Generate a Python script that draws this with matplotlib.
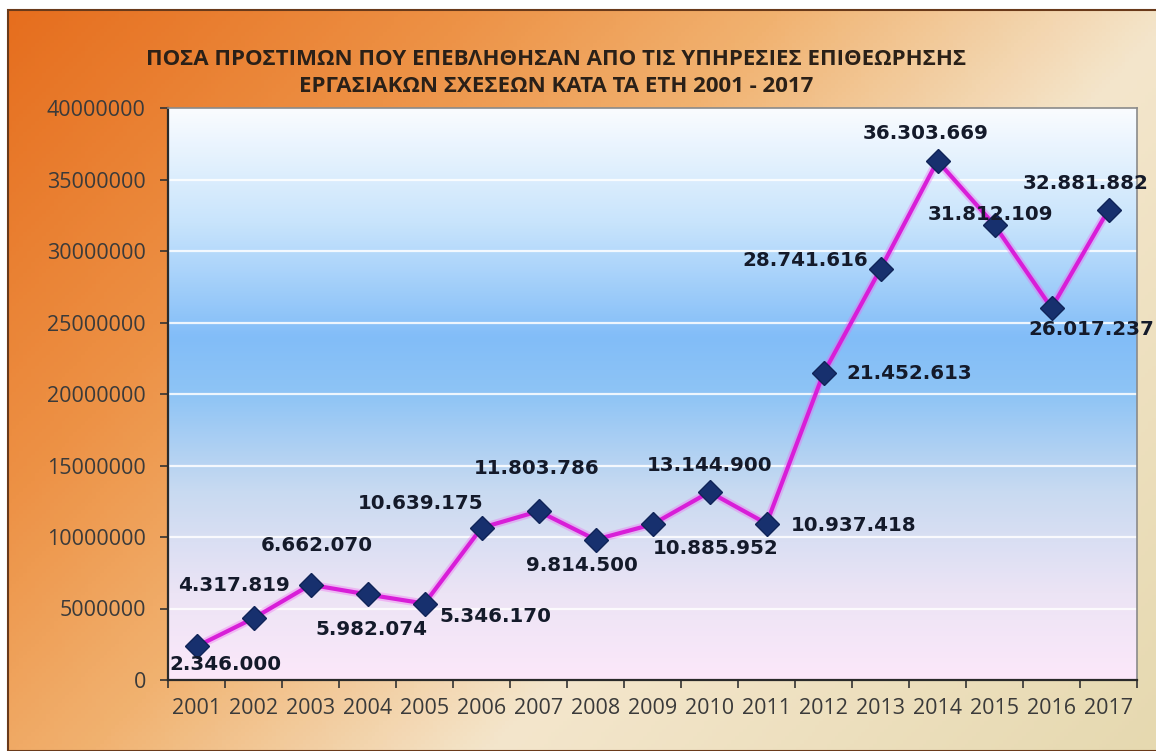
import numpy as np
import matplotlib
matplotlib.use('Agg')
import matplotlib.pyplot as plt
from matplotlib.colors import LinearSegmentedColormap
from matplotlib.patches import Rectangle

# Δεδομένα
years = ['2001', '2002', '2003', '2004', '2005', '2006', '2007', '2008', '2009',
         '2010', '2011', '2012', '2013', '2014', '2015', '2016', '2017']
fines = [2346000, 4317819, 6662070, 5982074, 5346170, 10639175, 11803786, 9814500,
         10885952, 13144900, 10937418, 21452613, 28741616, 36303669, 31812109,
         26017237, 32881882]
labels = ['2.346.000', '4.317.819', '6.662.070', '5.982.074', '5.346.170',
          '10.639.175', '11.803.786', '9.814.500', '10.885.952', '13.144.900',
          '10.937.418', '21.452.613', '28.741.616', '36.303.669', '31.812.109',
          '26.017.237', '32.881.882']
yticks = [0, 5000000, 10000000, 15000000, 20000000, 25000000, 30000000, 35000000, 40000000]

title = ('ΠΟΣΑ ΠΡΟΣΤΙΜΩΝ ΠΟΥ ΕΠΕΒΛΗΘΗΣΑΝ ΑΠΟ ΤΙΣ ΥΠΗΡΕΣΙΕΣ ΕΠΙΘΕΩΡΗΣΗΣ\n'
         'ΕΡΓΑΣΙΑΚΩΝ ΣΧΕΣΕΩΝ ΚΑΤΑ ΤΑ ΕΤΗ 2001 - 2017')

# μετατόπιση ετικετών (pixels)
offsets = [(29, -18), (-20, 33), (6, 39), (4, -35), (71, -13), (-61, 24), (-2, 43),
           (-14, -26), (63, -24), (0, 27), (87, -2), (86, 0), (-75, 8), (-12, 27),
           (-4, 11), (40, -22), (-23, 26)]

W, H = 1156, 751
fig = plt.figure(figsize=(W / 100, H / 100), dpi=100)
fig.patch.set_facecolor('white')

# φόντο σχήματος (διαγώνια διαβάθμιση)
bg = fig.add_axes([0, 0, 1, 1], zorder=-2)
bg_cmap = LinearSegmentedColormap.from_list('bg', [
    (0.0, (230/255, 110/255, 30/255)),
    (0.25, (237/255, 146/255, 70/255)),
    (0.42, (241/255, 178/255, 112/255)),
    (0.64, (244/255, 230/255, 204/255)),
    (1.0, (230/255, 217/255, 176/255)),
])
gx, gy = np.meshgrid(np.linspace(0, 1, 300), np.linspace(0, 1, 200))
grad = (0.75 * gx + 0.45 * gy) / 1.2
bg.imshow(grad, cmap=bg_cmap, extent=[8 / W, 1, 0, 1 - 10 / H], aspect='auto',
          origin='upper', vmin=0, vmax=1)
bg.add_patch(Rectangle((8 / W, 0), 1, 1 - 10 / H, fill=False, edgecolor='#6a3a1a', lw=1.5))
bg.set_xlim(0, 1)
bg.set_ylim(0, 1)
bg.axis('off')

ax = fig.add_axes([168 / W, 71 / H, (1137 - 168) / W, (680 - 108) / H])
x = np.arange(len(years))
ax.set_xlim(-0.5, len(years) - 0.5)
ax.set_ylim(0, 40000000)

# φόντο περιοχής γραφήματος
pa_cmap = LinearSegmentedColormap.from_list('pa', [
    (0.0, (252/255, 232/255, 250/255)),
    (0.15, (236/255, 228/255, 245/255)),
    (0.33, (200/255, 218/255, 241/255)),
    (0.5, (142/255, 196/255, 245/255)),
    (0.6, (130/255, 189/255, 248/255)),
    (0.8, (200/255, 228/255, 252/255)),
    (1.0, (250/255, 252/255, 255/255)),
])
ax.imshow(np.linspace(0, 1, 256).reshape(-1, 1), cmap=pa_cmap, origin='lower',
          extent=[-0.5, len(years) - 0.5, 0, 40000000], aspect='auto', zorder=0)

for t in yticks[1:-1]:
    ax.axhline(t, color='white', lw=1.6, alpha=0.85, zorder=1)

ax.plot(x, fines, color='#f060f0', lw=6, alpha=0.35, zorder=2, solid_capstyle='round')
ax.plot(x, fines, color='#d81ed8', lw=3, zorder=3, marker='D', markersize=12,
        markerfacecolor='#17306e', markeredgecolor='#102458', markeredgewidth=1)

for i in range(len(years)):
    ax.annotate(labels[i], (x[i], fines[i]), xytext=offsets[i], textcoords='offset pixels',
                ha='center', va='center', fontsize=14.3, fontweight='bold',
                family='DejaVu Sans', color='#141a2a', zorder=5)

ax.set_yticks(yticks)
ax.set_yticklabels([str(t) for t in yticks], family=['Open Sans', 'DejaVu Sans'],
                   fontsize=15.5, color='#3a3a3a')
ax.set_xticks(x)
ax.set_xticklabels(years, family=['Open Sans', 'DejaVu Sans'], fontsize=15.5, color='#3a3a3a')
ax.set_xticks(np.arange(-0.5, len(years), 1), minor=True)
ax.tick_params(axis='x', which='major', length=0, pad=13)
ax.tick_params(axis='x', which='minor', length=6, width=1.2, color='#333333')
ax.tick_params(axis='y', length=6, width=1.2, color='#333333', pad=10)

for s in ['left', 'bottom']:
    ax.spines[s].set_color('#2a2a2a')
    ax.spines[s].set_linewidth(1.6)
for s in ['top', 'right']:
    ax.spines[s].set_color('#8a8a8a')
    ax.spines[s].set_linewidth(1.2)

fig.text(556 / W, 1 - 73 / H, title, ha='center', va='center', fontsize=16,
         fontweight='bold', family=['Open Sans', 'DejaVu Sans'], color='#2a2018',
         linespacing=1.42)

fig.savefig('out.png', dpi=100)
